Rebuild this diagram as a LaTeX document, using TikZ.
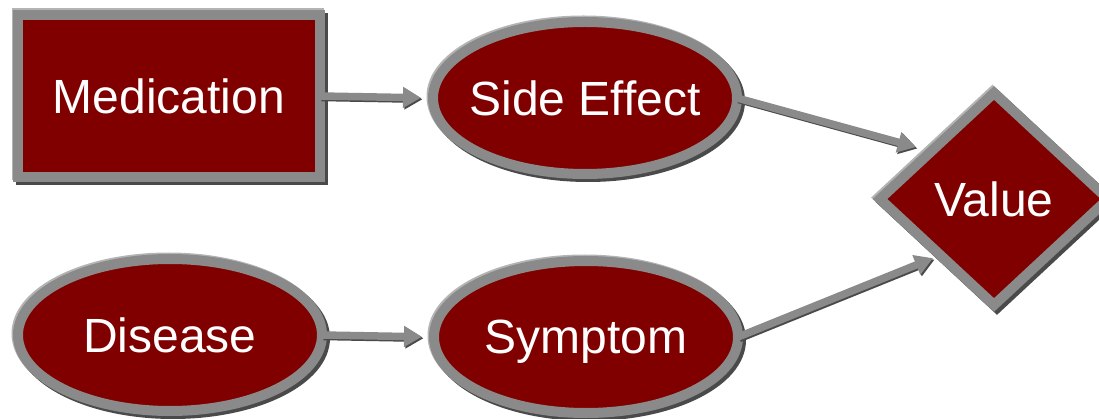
\documentclass[tikz,border=0pt]{standalone}
\usepackage{fontspec}
\setmainfont{Liberation Sans}
\usetikzlibrary{shapes.geometric,arrows.meta,calc}
\definecolor{nodered}{HTML}{800000}
\definecolor{rimgray}{HTML}{8A8A8A}
\definecolor{rimlight}{HTML}{B4B4B4}
\definecolor{rimdark}{HTML}{4A4A4A}

\tikzset{
  shaded rim/.style={draw=rimgray, line width=10pt, fill=nodered, text=white,
    inner sep=0pt, outer sep=0pt, text depth=0pt,
    font=\fontsize{48}{57}\selectfont,
    preaction={draw=rimlight, line width=10pt, transform canvas={shift={(-1.5pt,1.5pt)}}},
    preaction={draw=rimdark, line width=10pt, transform canvas={shift={(3pt,-3pt)}}}},
  box/.style={shaded rim, rectangle, minimum width=302pt, minimum height=162pt},
  % negative inner xsep keeps the ellipse at its fixed size around long labels
  oval/.style={shaded rim, ellipse, inner xsep=-40pt, minimum width=304pt, minimum height=152pt},
  goal/.style={shaded rim, diamond, minimum width=228pt, minimum height=212pt},
  tip/.style={-{Triangle[length=18pt,width=20pt]}},
  link/.style={draw=rimgray, line width=7.5pt, tip,
    preaction={draw=rimdark, line width=7.5pt, tip, transform canvas={shift={(1.5pt,-1.5pt)}}}}
}

\begin{document}
\begin{tikzpicture}[x=1pt, y=-1pt]
  \useasboundingbox (0,0) rectangle (1099,419);
  \clip (0,0) rectangle (1099,419);

  % influence diagram nodes
  \node[box]  (med) at (169,96)  {Medication};
  \node[oval] (se)  at (585,98)  {Side Effect};
  \node[oval] (dis) at (170,335) {Disease};
  \node[oval] (sym) at (586,337) {Symptom};
  \node[goal] (val) at (994,199) {Value};

  % arcs
  \draw[link, shorten >=12pt] (med.east) -- (se.west);
  \draw[link, shorten >=12pt] (dis.east) -- (sym.west);
  \draw[link, shorten >=16pt] (se.east) -- ($(val.west)!0.45!(val.north)$);
  \draw[link, shorten >=8pt]  (sym.east) -- ($(val.west)!0.53!(val.south)$);
\end{tikzpicture}
\end{document}
